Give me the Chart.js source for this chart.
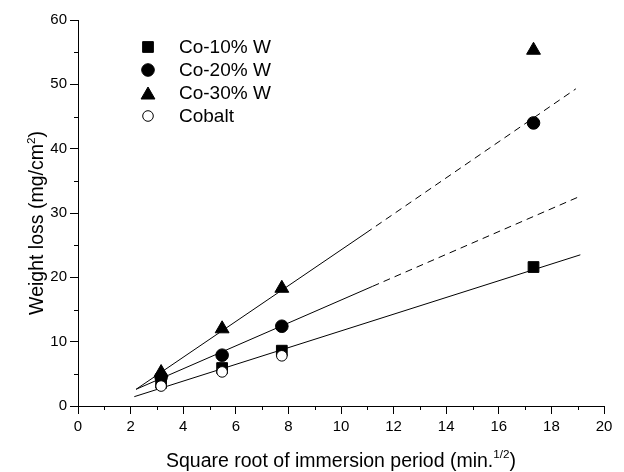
<!DOCTYPE html>
<html>
<head>
<meta charset="utf-8">
<script src="https://cdn.jsdelivr.net/npm/chart.js@4.4.1/dist/chart.umd.min.js"></script>
<style>
  html, body { margin: 0; padding: 0; background: #fff; }
  canvas { display: block; }
</style>
</head>
<body>
<canvas id="c" width="624" height="472"></canvas>
<script>
// ---- data ----
const xValues = [3.16, 5.48, 7.75, 17.32];           // sqrt(min)
const co10 = [3.6, 5.9, 8.6, 21.6];
const co20 = [4.5, 7.9, 12.4, 44.0];
const co30 = [5.2, 12.0, 18.3, 55.3];
const cobalt = [3.1, 5.3, 7.8];

// fitted lines (end points)
const fit10 = [[2.14, 1.45], [19.1, 23.5]];
const fit20Solid = [[2.21, 2.6], [11.2, 18.6]];
const fit20Dash = [[11.2, 18.6], [19.09, 32.6]];
const fit30Solid = [[2.21, 2.6], [10.95, 26.9]];
const fit30Dash = [[10.95, 26.9], [18.93, 49.3]];

const xTicksMinor = [1, 3, 5, 7, 9, 11, 13, 15, 17, 19];
const yTicksMinor = [5, 15, 25, 35, 45, 55];

const seriesLabels = ['Co-10% W', 'Co-20% W', 'Co-30% W', 'Cobalt'];

const FONT = '"Liberation Sans", Arial, Helvetica, sans-serif';

const pts = (xs, ys) => ys.map((y, i) => ({ x: xs[i], y }));
const seg = arr => arr.map(p => ({ x: p[0], y: p[1] }));

const lineDs = (data, dashed) => ({
  data: seg(data), showLine: true, borderColor: '#000', borderWidth: 1,
  borderDash: dashed ? [7, 5] : [], pointRadius: 0, fill: false, order: 10
});

const markerStyles = [
  { style: 'rect', r: 7.6, fill: '#000' },
  { style: 'circle', r: 6.3, fill: '#000' },
  { style: 'triangle', r: 8, fill: '#000' },
  { style: 'circle', r: 5.3, fill: '#fff' }
];

const datasets = [
  lineDs(fit10, false), lineDs(fit20Solid, false), lineDs(fit20Dash, true),
  lineDs(fit30Solid, false), lineDs(fit30Dash, true),
  { label: seriesLabels[0], data: pts(xValues, co10), pointStyle: 'rect', pointRadius: 7.6,
    backgroundColor: '#000', borderColor: '#000', borderWidth: 1, showLine: false, order: 3, isSeries: 0 },
  { label: seriesLabels[1], data: pts(xValues, co20), pointStyle: 'circle', pointRadius: 6.3,
    backgroundColor: '#000', borderColor: '#000', borderWidth: 1, showLine: false, order: 2, isSeries: 1 },
  { label: seriesLabels[2], data: pts(xValues, co30), pointStyle: 'triangle', pointRadius: 8,
    backgroundColor: '#000', borderColor: '#000', borderWidth: 1, showLine: false, order: 0, isSeries: 2 },
  { label: seriesLabels[3], data: pts(xValues, cobalt), pointStyle: 'circle', pointRadius: 5.3,
    backgroundColor: '#fff', borderColor: '#000', borderWidth: 1, showLine: false, order: 1, isSeries: 3 }
];

function drawMarker(ctx, m, x, y) {
  ctx.save();
  ctx.fillStyle = m.fill; ctx.strokeStyle = '#000'; ctx.lineWidth = 1;
  ctx.beginPath();
  if (m.style === 'rect') {
    const s = Math.SQRT1_2 * m.r;
    ctx.rect(x - s, y - s, 2 * s, 2 * s);
  } else if (m.style === 'circle') {
    ctx.arc(x, y, m.r, 0, Math.PI * 2);
  } else {
    const r = m.r, cy = y + 0.25 * r;
    ctx.moveTo(x, cy - r);
    ctx.lineTo(x + 0.866 * r, cy + 0.5 * r);
    ctx.lineTo(x - 0.866 * r, cy + 0.5 * r);
    ctx.closePath();
  }
  ctx.fill(); ctx.stroke();
  ctx.restore();
}

// draw text with superscript parts: parts = [[text, isSup], ...]
function measureParts(ctx, parts, size) {
  let w = 0;
  parts.forEach(([t, sup]) => {
    ctx.font = (sup ? size * 0.6 : size) + 'px ' + FONT;
    w += ctx.measureText(t).width;
  });
  return w;
}
function drawParts(ctx, parts, size, x, y) {
  parts.forEach(([t, sup]) => {
    ctx.font = (sup ? size * 0.6 : size) + 'px ' + FONT;
    ctx.fillText(t, x, sup ? y - size * 0.42 : y);
    x += ctx.measureText(t).width;
  });
}

const xTitle = [['Square root of immersion period (min.', false], ['1/2', true], [')', false]];
const yTitle = [['Weight loss (mg/cm', false], ['2', true], [')', false]];

const extras = {
  id: 'extras',
  afterDraw(chart) {
    const ctx = chart.ctx;
    const xs = chart.scales.x, ys = chart.scales.y;
    const area = chart.chartArea;
    ctx.save();
    ctx.strokeStyle = '#000'; ctx.lineWidth = 1;
    // minor ticks
    xTicksMinor.forEach(v => {
      const px = Math.round(xs.getPixelForValue(v)) + 0.5;
      ctx.beginPath(); ctx.moveTo(px, area.bottom); ctx.lineTo(px, area.bottom + 4); ctx.stroke();
    });
    yTicksMinor.forEach(v => {
      const py = Math.round(ys.getPixelForValue(v)) + 0.5;
      ctx.beginPath(); ctx.moveTo(area.left - 4, py); ctx.lineTo(area.left, py); ctx.stroke();
    });
    // axis titles
    ctx.fillStyle = '#000';
    ctx.textBaseline = 'alphabetic';
    ctx.textAlign = 'left';
    const size = 19.5;
    const wx = measureParts(ctx, xTitle, size);
    drawParts(ctx, xTitle, size, (area.left + area.right) / 2 - wx / 2, 466.5);
    const wy = measureParts(ctx, yTitle, size);
    ctx.translate(43, 223);
    ctx.rotate(-Math.PI / 2);
    drawParts(ctx, yTitle, size, -wy / 2, 0);
    ctx.restore();

    // legend
    ctx.save();
    const rows = [47, 70, 93, 116];
    chart.data.datasets.forEach(ds => {
      if (ds.isSeries === undefined) return;
      const i = ds.isSeries;
      drawMarker(ctx, markerStyles[i], 148, rows[i]);
      ctx.fillStyle = '#000';
      ctx.font = '19px ' + FONT;
      ctx.textBaseline = 'middle';
      ctx.textAlign = 'left';
      ctx.fillText(ds.label, 179, rows[i] + 1);
    });
    ctx.restore();
  }
};

const axisCommon = {
  type: 'linear',
  grid: { drawOnChartArea: false, drawTicks: true, tickLength: 8, color: '#000', tickColor: '#000', lineWidth: 1 },
  border: { display: true, color: '#000', width: 1 },
};

new Chart(document.getElementById('c'), {
  type: 'scatter',
  data: { datasets },
  plugins: [extras],
  options: {
    responsive: false,
    devicePixelRatio: 1,
    animation: false,
    layout: { padding: { top: 20, right: 20, bottom: 0, left: 0 } },
    plugins: { legend: { display: false }, tooltip: { enabled: false } },
    scales: {
      x: Object.assign({}, axisCommon, {
        min: 0, max: 20,
        ticks: { stepSize: 2, color: '#000', padding: 4, maxRotation: 0, font: { family: FONT, size: 15 } },
        afterFit: s => { s.height = 66; }
      }),
      y: Object.assign({}, axisCommon, {
        min: 0, max: 60,
        ticks: { stepSize: 10, color: '#000', padding: 3, font: { family: FONT, size: 15 } },
        afterFit: s => { s.width = 78; }
      })
    }
  }
});
</script>
</body>
</html>
